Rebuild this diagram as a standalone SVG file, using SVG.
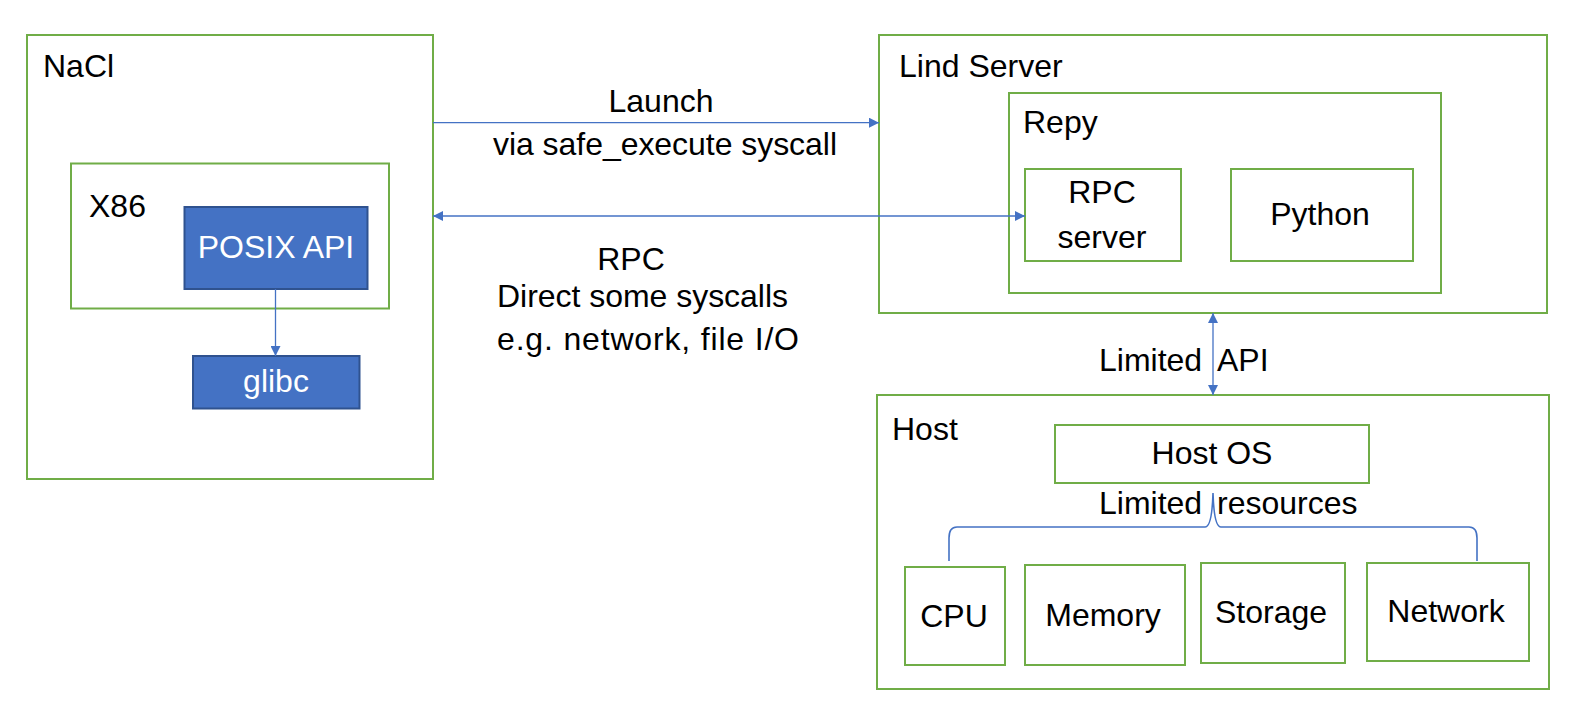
<svg xmlns="http://www.w3.org/2000/svg" width="1592" height="708" viewBox="0 0 1592 708">
<style>
  .box { fill: #ffffff; stroke: #70AD47; stroke-width: 2; }
  .blue { fill: #4472C4; stroke: #2F528F; stroke-width: 2; }
  .t { font-family: "Liberation Sans", Arial, sans-serif; font-size: 32px; fill: #000000; }
  .w { fill: #ffffff; }
  .c { text-anchor: middle; }
  .conn { fill: none; stroke: #4472C4; stroke-width: 1.3; }
  .brace { fill: none; stroke: #4472C4; stroke-width: 1.6; }
</style>
<defs>
  <marker id="arrow" viewBox="0 0 10 10" refX="10" refY="5" markerWidth="11" markerHeight="10" markerUnits="userSpaceOnUse" orient="auto-start-reverse">
    <path d="M0,0 L10,5 L0,10 z" fill="#4472C4"/>
  </marker>
</defs>
<rect width="1592" height="708" fill="#ffffff"/>

<g id="nacl">
  <rect class="box" x="27" y="35" width="406" height="444"/>
  <text class="t" x="43" y="77">NaCl</text>
</g>
<g id="x86">
  <rect class="box" x="71" y="163.5" width="318" height="145"/>
  <text class="t" x="89" y="217">X86</text>
</g>
<g id="posix">
  <rect class="blue" x="184.5" y="207" width="183" height="82"/>
  <text class="t w c" x="276" y="258">POSIX API</text>
</g>
<g id="glibc">
  <rect class="blue" x="193" y="356" width="166.5" height="52.5"/>
  <text class="t w c" x="276" y="392">glibc</text>
</g>

<g id="lind-server">
  <rect class="box" x="879" y="35" width="668" height="278"/>
  <text class="t" x="899" y="77">Lind Server</text>
</g>
<g id="repy">
  <rect class="box" x="1009" y="93" width="432" height="200"/>
  <text class="t" x="1023" y="133">Repy</text>
</g>
<g id="rpc-server">
  <rect class="box" x="1025" y="169" width="156" height="92"/>
  <text class="t c" x="1102" y="203">RPC</text>
  <text class="t c" x="1102" y="248">server</text>
</g>
<g id="python">
  <rect class="box" x="1231" y="169" width="182" height="92"/>
  <text class="t c" x="1320" y="225">Python</text>
</g>

<g id="host">
  <rect class="box" x="877" y="395" width="672" height="294"/>
  <text class="t" x="892" y="440">Host</text>
</g>
<g id="host-os">
  <rect class="box" x="1055" y="425" width="314" height="58"/>
  <text class="t c" x="1212" y="464">Host OS</text>
</g>
<g id="cpu">
  <rect class="box" x="905" y="567" width="100" height="98"/>
  <text class="t c" x="954" y="627">CPU</text>
</g>
<g id="memory">
  <rect class="box" x="1025" y="565" width="160" height="100"/>
  <text class="t c" x="1103" y="626">Memory</text>
</g>
<g id="storage">
  <rect class="box" x="1201" y="563" width="144" height="100"/>
  <text class="t c" x="1271" y="623">Storage</text>
</g>
<g id="network">
  <rect class="box" x="1367" y="563" width="162" height="98"/>
  <text class="t c" x="1446" y="622">Network</text>
</g>

<g id="connectors">
  <line class="conn" x1="433" y1="122.7" x2="879" y2="122.7" marker-end="url(#arrow)"/>
  <line class="conn" x1="433" y1="216" x2="1025" y2="216" marker-start="url(#arrow)" marker-end="url(#arrow)"/>
  <line class="conn" x1="275.5" y1="289" x2="275.5" y2="356" marker-end="url(#arrow)"/>
  <line class="conn" x1="1213" y1="313" x2="1213" y2="395" marker-start="url(#arrow)" marker-end="url(#arrow)"/>
  <path class="brace" d="M949,561 L949,538 Q949,527 957,527 L1205,527 Q1212,527 1213,493 Q1214,527 1221,527 L1469,527 Q1477,527 1477,538 L1477,561"/>
</g>

<g id="labels">
  <text class="t c" x="661" y="112">Launch</text>
  <text class="t" x="493" y="155" textLength="344">via safe_execute syscall</text>
  <text class="t c" x="631" y="270">RPC</text>
  <text class="t" x="497" y="307" textLength="291">Direct some syscalls</text>
  <text class="t" x="497" y="350" textLength="302">e.g. network, file I/O</text>
  <text class="t" y="371"><tspan x="1099">Limited</tspan> <tspan x="1217">API</tspan></text>
  <text class="t" y="514"><tspan x="1099">Limited</tspan> <tspan x="1217">resources</tspan></text>
</g>
</svg>
